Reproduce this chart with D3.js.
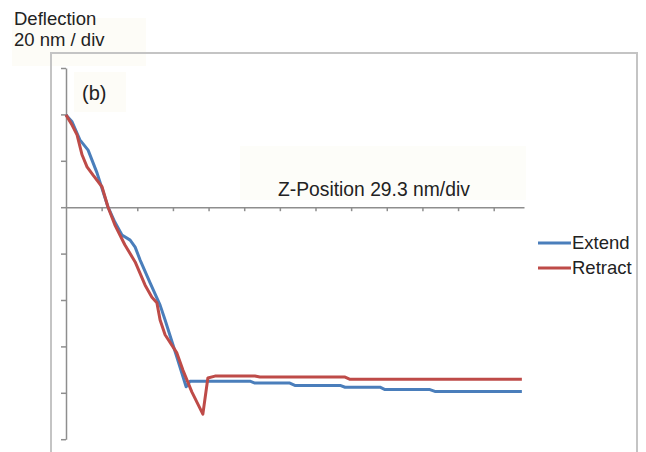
<html>
<head>
<meta charset="utf-8">
<script src="https://d3js.org/d3.v7.min.js"></script>
<style>
body { margin: 0; background: #fff; }
text { font-family: "Liberation Sans", Arial, sans-serif; fill: #222; }
.frame { fill: none; stroke: #c4c4c4; stroke-width: 2; }
.axis path, .axis line { fill: none; stroke: #8e8e8e; stroke-width: 1.5; }
.line { fill: none; stroke-width: 3; stroke-linejoin: round; }
</style>
</head>
<body>
<svg id="chart" width="646" height="452"></svg>
<script>

// positions, in divisions of each axis
var extendX = [0, 0.17, 0.39, 0.62, 0.87, 1.18, 1.37, 1.57, 1.80, 1.94, 2.08, 2.36, 2.64, 2.78, 3.11, 3.37, 3.48, 5.16, 5.30, 6.28, 6.42, 7.69, 7.83, 8.81, 8.95, 10.21, 10.35, 12.79];
var extendY = [1.99, 1.84, 1.45, 1.23, 0.74, 0.0, -0.32, -0.60, -0.71, -0.86, -1.14, -1.63, -2.11, -2.43, -3.23, -3.87, -3.75, -3.75, -3.79, -3.79, -3.84, -3.84, -3.88, -3.88, -3.93, -3.93, -3.97, -3.97];

var retractX = [0, 0.17, 0.31, 0.45, 0.59, 0.76, 1.01, 1.18, 1.37, 1.65, 1.94, 2.22, 2.41, 2.55, 2.64, 2.78, 3.11, 3.28, 3.53, 3.84, 3.98, 4.18, 5.30, 5.44, 7.83, 7.97, 10.63, 12.79];
var retractY = [1.99, 1.77, 1.56, 1.13, 0.87, 0.69, 0.44, 0.0, -0.38, -0.81, -1.18, -1.68, -1.94, -2.06, -2.43, -2.75, -3.14, -3.51, -3.98, -4.46, -3.68, -3.64, -3.64, -3.66, -3.66, -3.71, -3.71, -3.71];

var seriesNames = ["Extend", "Retract"];
var seriesColors = ["#4a7ebb", "#be4b48"];
var xTicks = [1, 2, 3, 4, 5, 6, 7, 8, 9, 10, 11, 12];
var yTicks = [3, 2, 1, 0, -1, -2, -3, -4, -5];

var svg = d3.select("#chart");

// very faint boxes behind the labels
svg.append("rect").attr("x", 12).attr("y", 18).attr("width", 134).attr("height", 48).style("fill", "#fdfcf7");
svg.append("rect").attr("x", 74).attr("y", 72).attr("width", 52).attr("height", 40).style("fill", "#fdfcf7");
svg.append("rect").attr("x", 240).attr("y", 146).attr("width", 286).attr("height", 54).style("fill", "#fdfdf9");

// chart frame (bottom runs past the picture)
svg.append("rect").attr("class", "frame")
    .attr("x", 51).attr("y", 53).attr("width", 586).attr("height", 420);

var x = d3.scaleLinear().domain([0, 12.85]).range([66, 524]);
var y = d3.scaleLinear().domain([-5, 3]).range([439.2, 68]);

svg.append("g")
    .attr("class", "axis")
    .attr("transform", "translate(" + x(0) + ",0)")
    .call(d3.axisLeft(y).tickValues(yTicks).tickSize(5).tickSizeOuter(0).tickFormat(""));

svg.append("g")
    .attr("class", "axis")
    .attr("transform", "translate(0," + y(0) + ")")
    .call(d3.axisBottom(x).tickValues(xTicks).tickSize(4).tickSizeOuter(0).tickFormat(""));

var line = d3.line()
    .x(function(d){ return x(d[0]) })
    .y(function(d){ return y(d[1]) });

var series = [
    d3.zip(extendX, extendY),
    d3.zip(retractX, retractY)
];

svg.selectAll(".line")
    .data(series)
    .enter().append("path")
    .attr("class", "line")
    .attr("d", line)
    .style("stroke", function(d, i){ return seriesColors[i] });

// labels
svg.append("text").attr("x", 14).attr("y", 25).text("Deflection").style("font-size", "18.5px");
svg.append("text").attr("x", 14).attr("y", 46).text("20 nm / div").style("font-size", "18.5px");
svg.append("text").attr("x", 82).attr("y", 100).text("(b)").style("font-size", "20px");
svg.append("text").attr("x", 278).attr("y", 196).text("Z-Position 29.3 nm/div").style("font-size", "19.3px");

// legend
var legend = svg.selectAll(".legend")
    .data(seriesNames)
    .enter().append("g")
    .attr("class", "legend")
    .attr("transform", function(d, i){ return "translate(538," + (243 + i * 25) + ")" });

legend.append("line")
    .attr("x1", 0).attr("x2", 33)
    .style("stroke", function(d, i){ return seriesColors[i] })
    .style("stroke-width", 3);

legend.append("text")
    .attr("x", 34).attr("y", 6)
    .text(function(d){ return d })
    .style("font-size", "18.5px");

</script>
</body>
</html>
